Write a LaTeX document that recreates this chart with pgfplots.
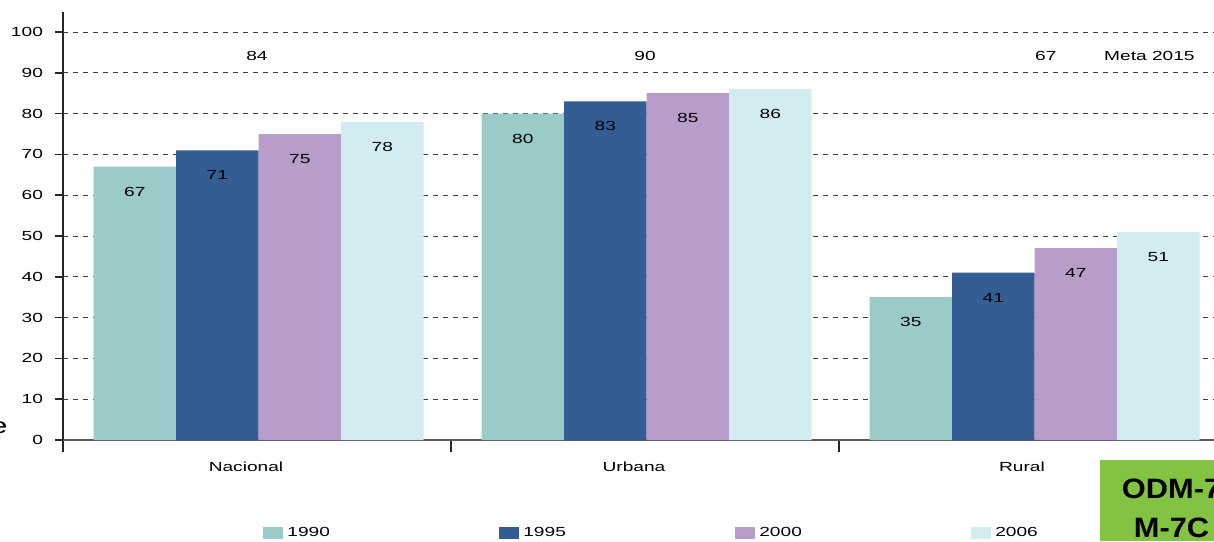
\documentclass[border=0pt]{standalone}
\usepackage{fontspec}
\setmainfont{Liberation Sans}[FakeStretch=1.45]
\newfontfamily\boxfont{Liberation Sans}[FakeStretch=1.1]
\usepackage{pgfplots}
\pgfplotsset{compat=1.18}
\definecolor{cA}{HTML}{9BCBC9}
\definecolor{cB}{HTML}{345D94}
\definecolor{cC}{HTML}{B89CCA}
\definecolor{cD}{HTML}{D3ECF2}
\definecolor{odm}{HTML}{82C341}
\newcommand{\sm}{\fontsize{6.6}{8}\selectfont}
\begin{document}
\begin{tikzpicture}
\begin{axis}[
  at={(31.5pt,50.5pt)}, anchor=south west,
  scale only axis, width=582pt, height=214.2pt,
  xmin=-0.5, xmax=2.5, ymin=0, ymax=105,
  axis x line*=bottom, axis y line*=left,
  x axis line style={-, draw=black!65, line width=1pt},
  y axis line style={-, draw=black!85, line width=1pt},
  /pgf/number format/assume math mode=true,
  ytick={0,10,...,100},
  tick align=outside,
  major tick length=4pt,
  ytick style={draw=black!85, line width=0.8pt},
  yticklabel style={font=\sm, xshift=-2.5pt},
  ymajorgrids,
  major grid style={draw=black!75, line width=0.5pt, dash pattern=on 2.5pt off 2.5pt},
  xtick={-0.5,0.5,1.5}, xticklabels={Nacional,Urbana,Rural},
  xtick style={draw=black!85, line width=1pt, /pgfplots/major tick length=6pt},
  xticklabel style={font=\sm, yshift=-3.5pt, xshift=91.5pt},
  ybar=0pt, bar width=41.25pt,
  nodes near coords,
  every node near coord/.append style={font=\sm, anchor=center, yshift=-12.5pt, text=black},
  legend image code/.code={\fill[#1] (0pt,-3pt) rectangle (10pt,3pt);},
  legend columns=4,
  legend style={at={(0.1718,-0.217)}, anchor=west, draw=none, fill=none, inner sep=0pt, font=\sm,
    /tikz/every even column/.append style={column sep=82.7pt}},
]
\addplot[fill=cA, draw=none] coordinates {(0.004,67) (1.004,80) (2.004,35)};
\addplot[fill=cB, draw=none] coordinates {(0.004,71) (1.004,83) (2.004,41)};
\addplot[fill=cC, draw=none] coordinates {(0.004,75) (1.004,85) (2.004,47)};
\addplot[fill=cD, draw=none] coordinates {(0.004,78) (1.004,86) (2.004,51)};
\legend{1990,1995,2000,2006}
\node[font=\sm] at (axis cs:0,94.1) {84};
\node[font=\sm] at (axis cs:1,94.1) {90};
\node[font=\sm] at (axis cs:2.033,94.1) {67};
\node[font=\sm] at (axis cs:2.30,94.1) {Meta 2015};
\end{axis}
\fill[odm] (550pt,0pt) rectangle (620pt,40.5pt);
\node[font=\boxfont\fontsize{14}{16}\selectfont\bfseries, anchor=base] at (585.75pt,21.5pt) {ODM-7};
\node[font=\boxfont\fontsize{14}{16}\selectfont\bfseries, anchor=base] at (585.75pt,2pt) {M-7C};
\node[font=\fontsize{11}{12}\selectfont, anchor=east, inner sep=0pt] at (4pt,56.5pt) {e};
\pgfresetboundingbox
\useasboundingbox (0pt,0pt) rectangle (607pt,270.5pt);
\end{tikzpicture}
\end{document}
